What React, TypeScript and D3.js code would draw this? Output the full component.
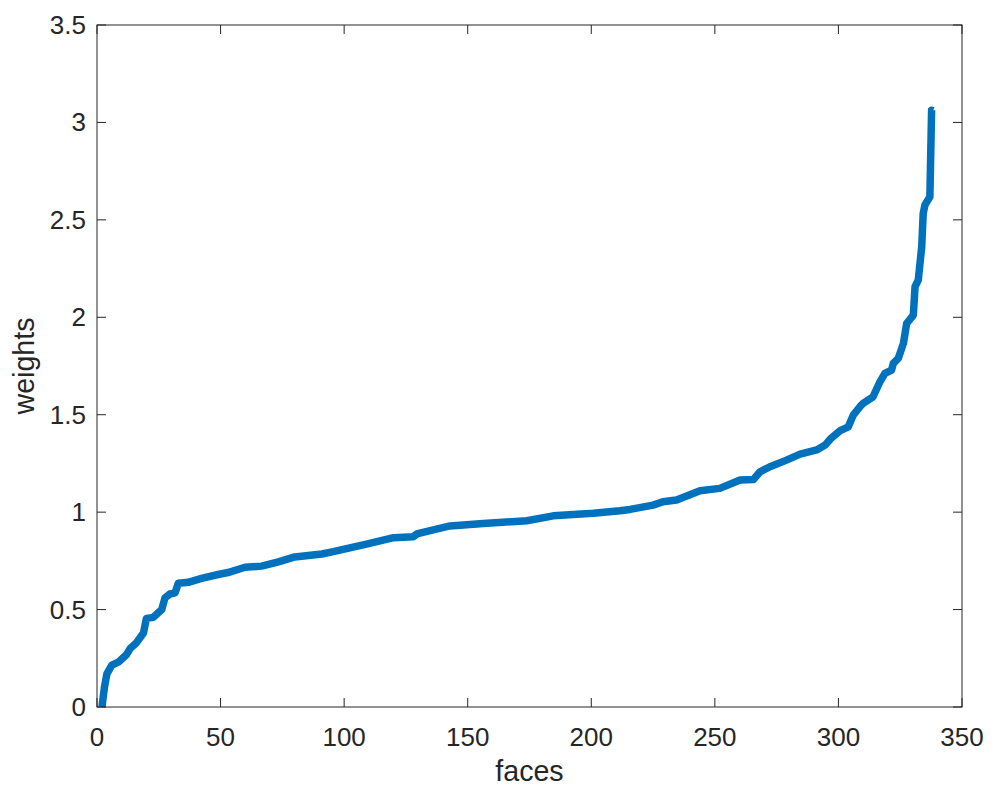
import React from "react";
import * as d3 from "d3";

// points (face index, weight)
const faces = [
  2, 3, 4, 6, 8.6, 12, 13.4, 16, 18.8, 20, 22.8, 26.2, 27.5, 29.5, 31.6, 32.9,
  36.9, 42.3, 49, 53, 59.9, 66.6, 73.4, 80, 91, 95.6, 109, 120, 128, 129.4,
  142.8, 156.3, 173.9, 184.6, 200.8, 211.6, 215.7, 225, 229, 234.5, 244, 252,
  260.2, 265.6, 268.3, 272.3, 279, 284.5, 291.2, 294.6, 297, 300.7, 304, 306,
  308.7, 310, 314, 316.8, 318.8, 321.5, 322.2, 324.2, 326.3, 327.6, 330.3, 331,
  332.3, 333.7, 334.3, 335, 337, 337.7, 338.3,
];
const weights = [
  0, 0.1, 0.17, 0.215, 0.23, 0.27, 0.3, 0.33, 0.38, 0.455, 0.46, 0.5, 0.56,
  0.58, 0.586, 0.635, 0.64, 0.66, 0.68, 0.69, 0.717, 0.723, 0.745, 0.77, 0.785,
  0.797, 0.836, 0.869, 0.874, 0.888, 0.929, 0.942, 0.956, 0.981, 0.994, 1.007,
  1.014, 1.036, 1.053, 1.062, 1.11, 1.122, 1.165, 1.168, 1.207, 1.233, 1.267,
  1.298, 1.319, 1.344, 1.379, 1.418, 1.438, 1.498, 1.541, 1.558, 1.592, 1.669,
  1.712, 1.729, 1.763, 1.789, 1.866, 1.968, 2.011, 2.157, 2.191, 2.362, 2.533,
  2.576, 2.618, 3.063, 3.06,
];
const xTickValues = [0, 50, 100, 150, 200, 250, 300, 350];
const yTickValues = [0, 0.5, 1, 1.5, 2, 2.5, 3, 3.5];

export default function App() {
  const width = 996;
  const height = 793;
  const left = 97;
  const right = 962;
  const top = 25;
  const bottom = 707;
  const tickLen = 9;
  const axisColor = "#262626";
  const font = "'Liberation Sans', Arial, Helvetica, sans-serif";

  const xScale = d3.scaleLinear().domain([0, 350]).range([left, right]);
  const yScale = d3.scaleLinear().domain([0, 3.5]).range([bottom, top]);

  const points: [number, number][] = faces.map((f, i) => [f, weights[i]]);
  const line = d3
    .line<[number, number]>()
    .x((d) => xScale(d[0]))
    .y((d) => yScale(d[1]));

  return (
    <svg
      width={width}
      height={height}
      style={{ position: "absolute", left: 0, top: 0, background: "#fff" }}
    >
      <rect x={0} y={0} width={width} height={height} fill="#fff" />
      <path
        d={line(points) ?? ""}
        fill="none"
        stroke="#0072BD"
        strokeWidth={7.5}
        strokeLinejoin="round"
      />
      <rect
        x={left}
        y={top}
        width={right - left}
        height={bottom - top}
        fill="none"
        stroke={axisColor}
        strokeWidth={1}
      />
      {xTickValues.map((t) => (
        <g key={"x" + t}>
          <line x1={xScale(t)} x2={xScale(t)} y1={bottom} y2={bottom - tickLen} stroke={axisColor} />
          <line x1={xScale(t)} x2={xScale(t)} y1={top} y2={top + tickLen} stroke={axisColor} />
          <text
            x={xScale(t)}
            y={746}
            textAnchor="middle"
            fontFamily={font}
            fontSize={26}
            fill={axisColor}
          >
            {t}
          </text>
        </g>
      ))}
      {yTickValues.map((t) => (
        <g key={"y" + t}>
          <line x1={left} x2={left + tickLen} y1={yScale(t)} y2={yScale(t)} stroke={axisColor} />
          <line x1={right} x2={right - tickLen} y1={yScale(t)} y2={yScale(t)} stroke={axisColor} />
          <text
            x={left - 11}
            y={yScale(t) + 9}
            textAnchor="end"
            fontFamily={font}
            fontSize={26}
            fill={axisColor}
          >
            {t}
          </text>
        </g>
      ))}
      <text
        x={(left + right) / 2}
        y={781}
        textAnchor="middle"
        fontFamily={font}
        fontSize={28.6}
        fill={axisColor}
      >
        faces
      </text>
      <text
        transform={`translate(34, ${(top + bottom) / 2}) rotate(-90)`}
        textAnchor="middle"
        fontFamily={font}
        fontSize={28.6}
        fill={axisColor}
      >
        weights
      </text>
    </svg>
  );
}
